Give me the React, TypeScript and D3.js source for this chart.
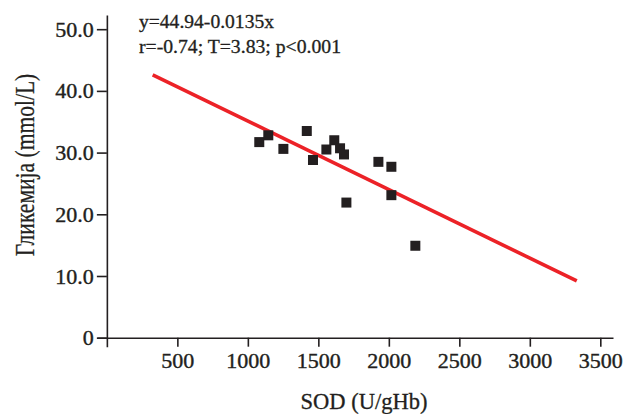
import React, { useEffect, useRef } from "react";
import * as d3 from "d3";

// SOD (U/gHb) vs glycaemia (mmol/L)
const sod = [1081, 1145, 1252, 1418, 1462, 1557, 1613, 1654, 1682, 1699, 1926, 2018, 2018, 2188];
const glyc = [31.7, 32.8, 30.6, 33.5, 28.8, 30.5, 32.0, 30.7, 29.7, 21.9, 28.5, 27.7, 23.1, 14.9];

// regression line as drawn (end points)
const fitX = [325, 3333];
const fitY = [42.6, 9.2];

const xTicks = [500, 1000, 1500, 2000, 2500, 3000, 3500];
const yTicks = [0, 10, 20, 30, 40, 50];

const annotation = ["y=44.94-0.0135x", "r=-0.74; T=3.83; p<0.001"];
const xTitle = "SOD (U/gHb)";
const yTitle = "Гликемија (mmol/L)";

const W = 633;
const H = 414;
const font = "'Liberation Serif', 'Times New Roman', serif";
const ink = "#231f20";

const App = () => {
  const ref = useRef<SVGSVGElement>(null);

  useEffect(() => {
    const svg = d3.select(ref.current);
    svg.selectAll("*").remove();

    // domains stretched a little past zero so the axis lines overshoot as in the picture
    const x = d3.scaleLinear().domain([-70, 3590]).range([97, 613]);
    const y = d3.scaleLinear().domain([-1.46, 52.3]).range([346.7, 15]);

    const yAxis = svg
      .append("g")
      .attr("transform", `translate(${x(0)},0)`)
      .call(
        d3
          .axisLeft(y)
          .tickValues(yTicks)
          .tickSize(10)
          .tickSizeOuter(0)
          .tickPadding(3)
          .tickFormat((d) => (+d === 0 ? "0" : d3.format(".1f")(+d)))
      );

    const xAxis = svg
      .append("g")
      .attr("transform", `translate(0,${y(0)})`)
      .call(
        d3
          .axisBottom(x)
          .tickValues(xTicks)
          .tickSize(9)
          .tickSizeOuter(0)
          .tickPadding(6)
          .tickFormat((d) => String(d))
      );

    [xAxis, yAxis].forEach((a) => {
      a.select(".domain").attr("stroke", ink).attr("stroke-width", 1.6);
      a.selectAll(".tick line").attr("stroke", ink).attr("stroke-width", 1.6);
      a.selectAll(".tick text")
        .attr("fill", ink)
        .attr("stroke", ink)
        .attr("stroke-width", 0.4)
        .style("font-family", font)
        .style("font-size", "22px");
    });

    // regression line
    svg
      .append("path")
      .datum(d3.zip(fitX, fitY))
      .attr("fill", "none")
      .attr("stroke", "#ec2227")
      .attr("stroke-width", 3.6)
      .attr(
        "d",
        d3
          .line<number[]>()
          .x((d) => x(d[0]))
          .y((d) => y(d[1]))
      );

    // points
    const s = 10;
    svg
      .append("g")
      .selectAll("rect")
      .data(d3.zip(sod, glyc))
      .join("rect")
      .attr("x", (d) => x(d[0]) - s / 2)
      .attr("y", (d) => y(d[1]) - s / 2)
      .attr("width", s)
      .attr("height", s)
      .attr("fill", ink);

    // equation text
    const annoWidth = [135, 202];
    svg
      .append("g")
      .selectAll("text")
      .data(annotation)
      .join("text")
      .attr("x", 139)
      .attr("y", (d, i) => 28 + i * 25)
      .attr("textLength", (d, i) => annoWidth[i])
      .attr("lengthAdjust", "spacingAndGlyphs")
      .attr("fill", ink)
      .attr("stroke", ink)
      .attr("stroke-width", 0.3)
      .style("font-family", font)
      .style("font-size", "18px")
      .text((d) => d);

    // axis titles
    svg
      .append("text")
      .attr("x", 364)
      .attr("y", 409)
      .attr("text-anchor", "middle")
      .attr("fill", ink)
      .attr("stroke", ink)
      .attr("stroke-width", 0.3)
      .style("font-family", font)
      .style("font-size", "22.5px")
      .text(xTitle);

    svg
      .append("text")
      .attr("transform", "translate(34,165) rotate(-90) scale(0.77,1)")
      .attr("text-anchor", "middle")
      .attr("fill", ink)
      .attr("stroke", ink)
      .attr("stroke-width", 0.3)
      .style("font-family", font)
      .style("font-size", "28px")
      .text(yTitle);
  }, []);

  return (
    <svg
      ref={ref}
      width={W}
      height={H}
      style={{ position: "absolute", left: 0, top: 0, background: "#fff" }}
    ></svg>
  );
};

export default App;
